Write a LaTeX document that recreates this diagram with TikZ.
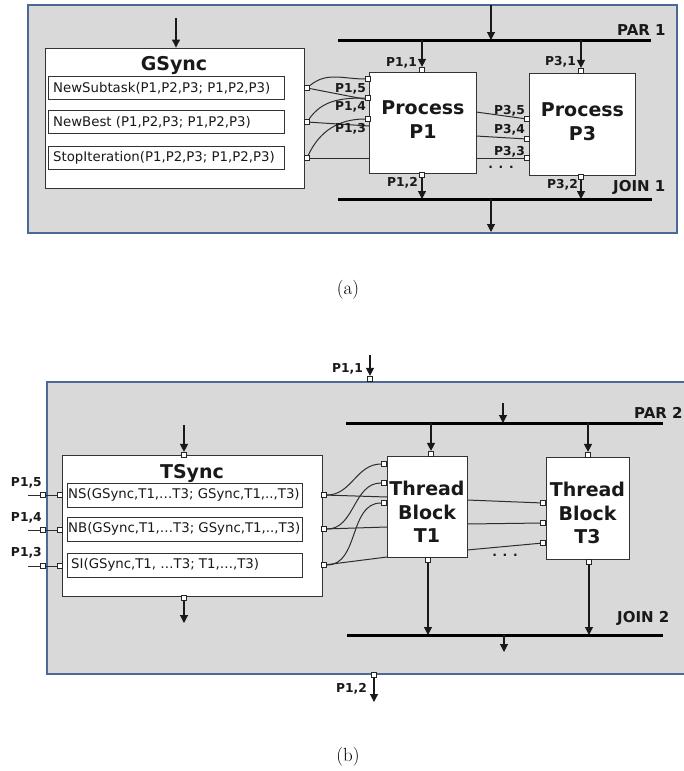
\documentclass[tikz,border=0pt]{standalone}
\usepackage{fontspec}
\setsansfont{DejaVu Sans}
\usetikzlibrary{arrows.meta}
\definecolor{bggray}{RGB}{217,217,217}
\definecolor{frameblue}{RGB}{74,105,150}
\definecolor{linegray}{RGB}{45,45,45}
\pgfdeclarelayer{back}
\pgfdeclarelayer{bg}
\pgfsetlayers{back,bg,main}
\begin{document}
\begin{tikzpicture}[x=1pt,y=-1pt,
  frame/.style={draw=frameblue, line width=2.5pt, fill=bggray},
  box/.style={draw=black!80, fill=white, line width=0.9pt, inner sep=0pt},
  port/.style={draw=black!85, fill=white, line width=0.7pt, minimum size=5.5pt, inner sep=0pt},
  conn/.style={draw=linegray, line width=1pt},
  arr/.style={draw=black!90, line width=1.1pt, -{Triangle[length=8pt,width=8pt]}},
  bar/.style={line width=3pt, draw=black},
  plbl/.style={font=\sffamily\bfseries\fontsize{12.3}{13}\selectfont, inner sep=0pt, text=black!90},
  barlbl/.style={font=\sffamily\bfseries\fontsize{15}{16}\selectfont, inner sep=0pt, text=black!90},
  bigtxt/.style={font=\sffamily\bfseries\fontsize{19}{24}\selectfont, align=center, inner sep=0pt, text=black!90},
  bigtxtb/.style={font=\sffamily\bfseries\fontsize{19}{23.5}\selectfont, align=center, inner sep=0pt, text=black!90},
  subtxt/.style={font=\sffamily\fontsize{13.3}{14}\selectfont, inner sep=0pt, anchor=west, text=black!90},
  captxt/.style={font=\fontsize{19}{22}\selectfont, inner sep=0pt}
]
\useasboundingbox (0,0) rectangle (683,771);
\clip (0,0) rectangle (683,771);

% ================= panel (a) =================
\begin{pgfonlayer}{back}
  \draw[frame] (28,5) rectangle (677,233);
\end{pgfonlayer}
\node[box, minimum width=259pt, minimum height=140pt] (gsync) at (174.5,118) {};
\node[bigtxt] (gsyncT) at (174,65) {GSync};
\node[box, minimum width=236pt, minimum height=23pt] (nsub) at (166,88) {};
\node[box, minimum width=236pt, minimum height=23pt] (nbest) at (166,122) {};
\node[box, minimum width=236pt, minimum height=23pt] (stopit) at (166,158) {};
\node[subtxt] (nsubT) at (53,88) {NewSubtask(P1,P2,P3; P1,P2,P3)};
\node[subtxt] (nbestT) at (53,122) {NewBest (P1,P2,P3; P1,P2,P3)};
\node[subtxt] (stopitT) at (53,158) {StopIteration(P1,P2,P3; P1,P2,P3)};
\node[port] (gp1) at (307,88) {};
\node[port] (gp2) at (307,122) {};
\node[port] (gp3) at (307,158) {};

\node[box, minimum width=107pt, minimum height=101pt] (p1) at (422.5,122.5) {};
\node[bigtxt] (p1T) at (423,120) {Process\\P1};
\node[box, minimum width=106pt, minimum height=102pt] (p3) at (582,124) {};
\node[bigtxt] (p3T) at (582.5,122) {Process\\P3};

\node[port] (p1top) at (422,70) {};
\node[port] (p1bot) at (422,175) {};
\node[port] (p3top) at (581,71) {};
\node[port] (p3bot) at (581,177) {};
\node[port] (p1p5) at (368,79) {};
\node[port] (p1p4) at (368,98) {};
\node[port] (p1p3) at (368,119) {};
\node[port] (p3p5) at (527,119) {};
\node[port] (p3p4) at (527,139) {};
\node[port] (p3p3) at (527,158) {};

\node[plbl, anchor=east] (l11) at (417,63) {P1,1};
\node[plbl, anchor=east] (l31) at (576,62) {P3,1};
\node[plbl, anchor=east] (l12) at (418,183) {P1,2};
\node[plbl, anchor=east] (l32) at (578,185) {P3,2};
\node[plbl, anchor=east] (l15) at (366,89) {P1,5};
\node[plbl, anchor=east] (l14) at (366,107) {P1,4};
\node[plbl, anchor=east] (l13) at (366,129) {P1,3};
\node[plbl, anchor=east] (l35) at (525,111) {P3,5};
\node[plbl, anchor=east] (l34) at (525,130) {P3,4};
\node[plbl, anchor=east] (l33) at (525,152) {P3,3};
\node[barlbl, anchor=west] (par1T) at (617,30) {PAR 1};
\node[barlbl, anchor=west] (join1T) at (613,187) {JOIN 1};
\node[plbl] (dotsA) at (501,167) {. . .};
\node[captxt] (capA) at (348,290) {(a)};

\coordinate (par1L) at (338,40);
\coordinate (par1R) at (651,40);
\coordinate (join1L) at (338,199);
\coordinate (join1R) at (652,199);
\coordinate (topA) at (491,5);
\coordinate (par1in) at (491,40);
\coordinate (join1out) at (491,199);
\coordinate (botA) at (491,232);
\coordinate (gsin) at (176,18);
\coordinate (e1) at (369,100);
\coordinate (e2) at (369,126);
\coordinate (e3) at (369,158);
\coordinate (f1) at (476,112);
\coordinate (f2) at (476,136);
\coordinate (f3) at (476,158);

\begin{pgfonlayer}{bg}
  \draw[bar] (par1L) -- (par1R);
  \draw[bar] (join1L) -- (join1R);
  \draw[arr] (topA) -- (par1in);
  \draw[arr] (p1top |- par1L) -- (p1top);
  \draw[arr] (p3top |- par1L) -- (p3top);
  \draw[arr] (p1bot) -- (p1bot |- join1L);
  \draw[arr] (p3bot) -- (p3bot |- join1L);
  \draw[arr] (join1out) -- (botA);
  \draw[arr] (gsin) -- (gsin |- gsync.north);
  \draw[conn] (nsub.east) -- (gp1);
  \draw[conn] (nbest.east) -- (gp2);
  \draw[conn] (stopit.east) -- (gp3);
  \draw[conn] (gp1) to[out=40,in=180] (p1p5);
  \draw[conn] (gp2) to[out=55,in=180] (p1p4);
  \draw[conn] (gp3) to[out=65,in=180] (p1p3);
  \draw[conn] (gp1) -- (e1);
  \draw[conn] (gp2) -- (e2);
  \draw[conn] (gp3) -- (e3);
  \draw[conn] (f1) -- (p3p5);
  \draw[conn] (f2) -- (p3p4);
  \draw[conn] (f3) -- (p3p3);
\end{pgfonlayer}

% ================= panel (b) =================
\begin{pgfonlayer}{back}
  \draw[frame] (47,382) rectangle (700,674);
\end{pgfonlayer}
\node[box, minimum width=260pt, minimum height=141pt] (tsync) at (192,525.5) {};
\node[bigtxt] (tsyncT) at (192,473) {TSync};
\node[box, minimum width=235pt, minimum height=24pt] (nsb) at (184.5,495) {};
\node[box, minimum width=235pt, minimum height=24pt] (nbb) at (184.5,529) {};
\node[box, minimum width=235pt, minimum height=24pt] (sib) at (184.5,565) {};
\node[subtxt] (nsbT) at (68,495) {NS(GSync,T1,…T3; GSync,T1,..,T3)};
\node[subtxt] (nbbT) at (68,529) {NB(GSync,T1,…T3; GSync,T1,..,T3)};
\node[subtxt] (sibT) at (71,565) {SI(GSync,T1, …T3; T1,…,T3)};

\node[box, minimum width=80pt, minimum height=101pt] (t1) at (427,506.5) {};
\node[bigtxtb] (t1T) at (427,512) {Thread\\Block\\T1};
\node[box, minimum width=83pt, minimum height=102pt] (t3) at (587.5,508) {};
\node[bigtxtb] (t3T) at (587.5,513) {Thread\\Block\\T3};

\node[port] (p11b) at (370,379) {};
\node[port] (p12b) at (374,675) {};
\node[port] (tstop) at (184,455) {};
\node[port] (tsbot) at (184,598) {};
\node[port] (t1top) at (431,454) {};
\node[port] (t1bot) at (428,560) {};
\node[port] (t3top) at (588,455) {};
\node[port] (t3bot) at (589,562) {};
\node[port] (tp1) at (324,495) {};
\node[port] (tp2) at (324,529) {};
\node[port] (tp3) at (324,565) {};
\node[port] (t1p1) at (384,464) {};
\node[port] (t1p2) at (384,483) {};
\node[port] (t1p3) at (384,503) {};
\node[port] (t3p1) at (543,503) {};
\node[port] (t3p2) at (543,523) {};
\node[port] (t3p3) at (543,543) {};
\node[port] (ti1) at (60,495) {};
\node[port] (ti2) at (60,530) {};
\node[port] (ti3) at (60,566) {};
\node[port] (to1) at (43,495) {};
\node[port] (to2) at (43,530) {};
\node[port] (to3) at (43,566) {};

\node[plbl, anchor=east] (lb11) at (363,369) {P1,1};
\node[plbl, anchor=east] (lb12) at (367,689) {P1,2};
\node[plbl, anchor=east] (lb15) at (42,483) {P1,5};
\node[plbl, anchor=east] (lb14) at (42,518) {P1,4};
\node[plbl, anchor=east] (lb13) at (42,553) {P1,3};
\node[barlbl, anchor=west] (par2T) at (634,413) {PAR 2};
\node[barlbl, anchor=west] (join2T) at (617,618) {JOIN 2};
\node[plbl] (dotsB) at (505,555) {. . .};
\node[captxt] (capB) at (348,757) {(b)};

\coordinate (par2L) at (346,423);
\coordinate (par2R) at (663,423);
\coordinate (join2L) at (347,635);
\coordinate (join2R) at (663,635);
\coordinate (par2src) at (503,403);
\coordinate (par2in) at (503,423);
\coordinate (join2out) at (504,635);
\coordinate (join2end) at (504,652);
\coordinate (p11src) at (370,355);
\coordinate (p12end) at (374,702);
\coordinate (tssrc) at (184,425);
\coordinate (tsend) at (184,623);
\coordinate (g1) at (387,497);
\coordinate (g2) at (387,527);
\coordinate (g3) at (387,557);
\coordinate (h1) at (467,500);
\coordinate (h2) at (467,524);
\coordinate (h3) at (467,550);
\coordinate (w1) at (28,495);
\coordinate (w2) at (28,530);
\coordinate (w3) at (28,566);

\begin{pgfonlayer}{bg}
  \draw[bar] (par2L) -- (par2R);
  \draw[bar] (join2L) -- (join2R);
  \draw[arr] (p11src) -- (p11b);
  \draw[arr] (p12b) -- (p12end);
  \draw[arr] (par2src) -- (par2in);
  \draw[arr] (t1top |- par2L) -- (t1top);
  \draw[arr] (t3top |- par2L) -- (t3top);
  \draw[arr] (t1bot) -- (t1bot |- join2L);
  \draw[arr] (t3bot) -- (t3bot |- join2L);
  \draw[arr] (join2out) -- (join2end);
  \draw[arr] (tssrc) -- (tstop);
  \draw[arr] (tsbot) -- (tsend);
  \draw[conn] (nsb.east) -- (tp1);
  \draw[conn] (nbb.east) -- (tp2);
  \draw[conn] (sib.east) -- (tp3);
  \draw[conn] (tp1) to[out=0,in=180] (t1p1);
  \draw[conn] (tp2) to[out=0,in=180] (t1p2);
  \draw[conn] (tp3) to[out=0,in=180] (t1p3);
  \draw[conn] (tp1) -- (g1);
  \draw[conn] (tp2) -- (g2);
  \draw[conn] (tp3) -- (g3);
  \draw[conn] (h1) -- (t3p1);
  \draw[conn] (h2) -- (t3p2);
  \draw[conn] (h3) -- (t3p3);
  \draw[conn] (w1) -- (ti1);
  \draw[conn] (w2) -- (ti2);
  \draw[conn] (w3) -- (ti3);
\end{pgfonlayer}
\end{tikzpicture}
\end{document}
